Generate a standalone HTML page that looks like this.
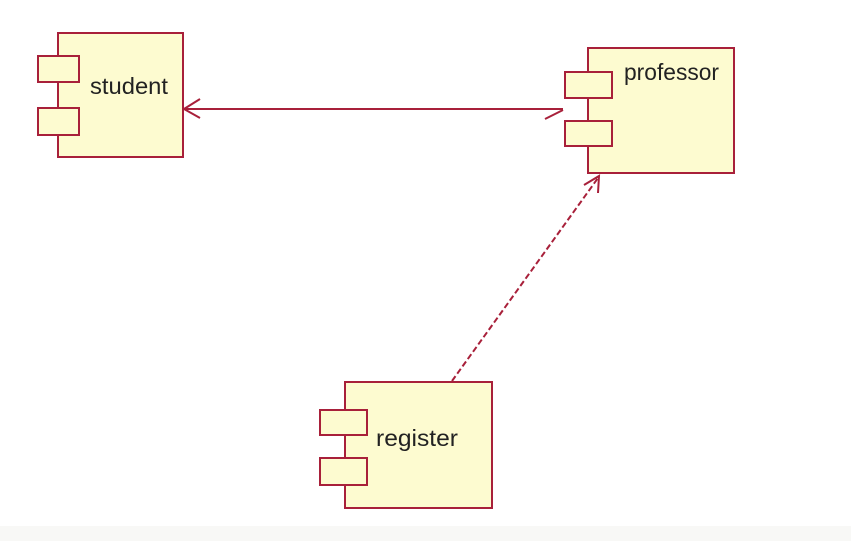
<!DOCTYPE html>
<html><head><style>
html,body{margin:0;padding:0;background:#fff;}
</style></head><body>
<svg width="851" height="541" xmlns="http://www.w3.org/2000/svg">
<rect x="0" y="0" width="851" height="541" fill="#fff"/>
<rect x="0" y="526" width="851" height="15" fill="#f8f8f6"/>
<g stroke="#a8203a" stroke-width="2" fill="#fdfbd0">
 <rect x="58" y="33" width="125" height="124"/>
 <rect x="38" y="56" width="41" height="26"/>
 <rect x="38" y="108" width="41" height="27"/>
 <rect x="588" y="48" width="146" height="125"/>
 <rect x="565" y="72" width="47" height="26"/>
 <rect x="565" y="121" width="47" height="25"/>
 <rect x="345" y="382" width="147" height="126"/>
 <rect x="320" y="410" width="47" height="25"/>
 <rect x="320" y="458" width="47" height="27"/>
</g>
<g stroke="#a8203a" stroke-width="2" fill="none">
 <line x1="184" y1="109" x2="563" y2="109"/>
 <polyline points="200,99 184,109 200,118"/>
 <line x1="545" y1="119" x2="563" y2="110"/>
 <line x1="452" y1="381" x2="598" y2="178" stroke-dasharray="6,3"/>
 <polyline points="584,185 599,176 598,193"/>
</g>
<g font-family="Liberation Sans, sans-serif" font-size="23" fill="#222">
 <text x="90" y="94" textLength="78" lengthAdjust="spacingAndGlyphs">student</text>
 <text x="624" y="80" textLength="95" lengthAdjust="spacingAndGlyphs">professor</text>
 <text x="376" y="446" textLength="82" lengthAdjust="spacingAndGlyphs">register</text>
</g>
</svg>
</body></html>
